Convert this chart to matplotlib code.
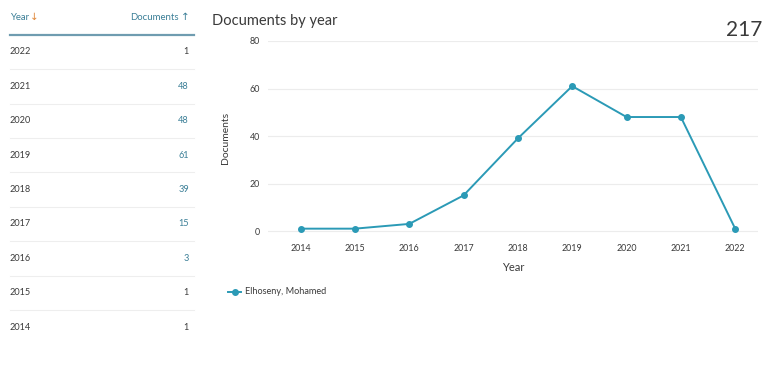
import matplotlib
matplotlib.use("Agg")
import matplotlib.pyplot as plt
from matplotlib.lines import Line2D

years = [2014, 2015, 2016, 2017, 2018, 2019, 2020, 2021, 2022]
documents = [1, 1, 3, 15, 39, 61, 48, 48, 1]
y_ticks = [0, 20, 40, 60, 80]
author = "Elhoseny, Mohamed"
total = 217

plt.rcParams['font.family'] = ['Lato', 'DejaVu Sans']

W, H = 763, 366
teal = "#2b9ab6"
head_teal = "#3b7f97"
text_dark = "#3a3a3a"


def fx(x):
    return x / W


def fy(y):
    return 1 - y / H


fig = plt.figure(figsize=(W / 100, H / 100), dpi=100)

# left table
fig.text(fx(10), fy(17), "Year", color=head_teal, fontsize=6.9, va="center", ha="left")
fig.text(fx(30), fy(17), "\u2193", color="#e0883a", fontsize=7.5, va="center", ha="left",
         family=['DejaVu Sans'])
fig.text(fx(179), fy(17), "Documents", color=head_teal, fontsize=6.9, va="center", ha="right")
fig.text(fx(181), fy(17), "\u2191", color=head_teal, fontsize=7.5, va="center", ha="left",
         family=['DejaVu Sans'])
fig.add_artist(Line2D([fx(10), fx(194)], [fy(35), fy(35)], color="#6f9cb0", lw=1.6))

row0, step = 52, 34.4
for i, (yr, n) in enumerate(zip(years[::-1], documents[::-1])):
    ry = row0 + i * step
    fig.text(fx(10), fy(ry), str(yr), color=text_dark, fontsize=6.6, va="center", ha="left")
    fig.text(fx(189), fy(ry), str(n), color=head_teal if n > 1 else text_dark,
             fontsize=6.6, va="center", ha="right")
    if i < len(years) - 1:
        sy = ry + step / 2
        fig.add_artist(Line2D([fx(10), fx(194)], [fy(sy), fy(sy)], color="#eeeeee", lw=0.8))

# chart
fig.text(fx(212), fy(21), "Documents by year", color=text_dark, fontsize=10.5,
         va="center", ha="left")
fig.text(fx(762), fy(30), str(total), color=text_dark, fontsize=15, va="center", ha="right")

ax = fig.add_axes([fx(268), fy(234.6), (758 - 268) / W, (234.6 - 41) / H])
ax.plot(years, documents, color=teal, lw=1.4, marker="o", markersize=4)
ax.set_xlim(2013.4, 2022.42)
ax.set_ylim(-1.5, 80)
ax.set_yticks(y_ticks)
ax.set_xticks(years)
ax.grid(axis="y", color="#ececec", lw=0.8)
ax.set_axisbelow(True)
for s in ax.spines.values():
    s.set_visible(False)
ax.tick_params(length=0, labelsize=6.4, labelcolor=text_dark, pad=7)
ax.tick_params(axis="y", pad=6)
ax.set_xlabel("Year", fontsize=8, color=text_dark, labelpad=6)
ax.set_ylabel("Documents", fontsize=7.5, color=text_dark, labelpad=14)

# legend
fig.add_artist(Line2D([fx(228), fx(241)], [fy(292), fy(292)], color=teal, lw=1.4))
fig.add_artist(Line2D([fx(234.5)], [fy(292)], color=teal, marker="o", markersize=4, lw=0))
fig.text(fx(245), fy(292), author, color=text_dark, fontsize=6.6, va="center", ha="left")

fig.savefig("out.png", dpi=100)
